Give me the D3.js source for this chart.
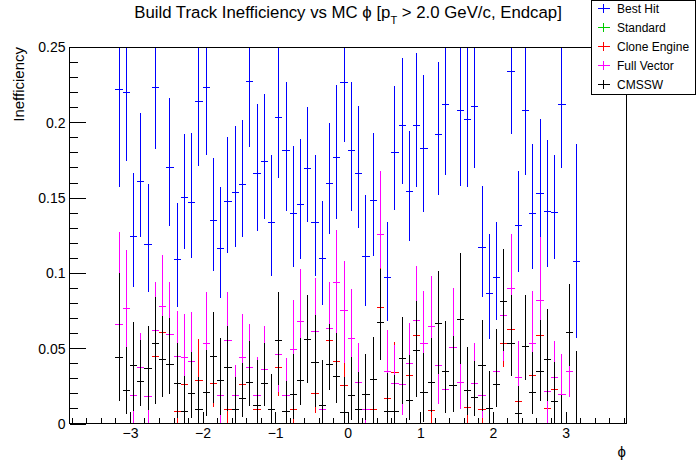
<!DOCTYPE html>
<html>
<head>
<meta charset="utf-8">
<script src="https://cdn.jsdelivr.net/npm/d3@7"></script>
<style>
  body { margin: 0; background: #fff; }
  svg { display: block; font-family: "Liberation Sans", Arial, sans-serif; }
</style>
</head>
<body>
<div id="chart"></div>
<script>
const WIDTH = 696;
const HEIGHT = 472;

// bin centres in phi (64 bins of 0.1)
const phiBins = [
  -3.15, -3.05, -2.95, -2.85, -2.75, -2.65, -2.55, -2.45, -2.35, -2.25,
  -2.15, -2.05, -1.95, -1.85, -1.75, -1.65, -1.55, -1.45, -1.35, -1.25,
  -1.15, -1.05, -0.95, -0.85, -0.75, -0.65, -0.55, -0.45, -0.35, -0.25,
  -0.15, -0.05, 0.05, 0.15, 0.25, 0.35, 0.45, 0.55, 0.65, 0.75,
  0.85, 0.95, 1.05, 1.15, 1.25, 1.35, 1.45, 1.55, 1.65, 1.75,
  1.85, 1.95, 2.05, 2.15, 2.25, 2.35, 2.45, 2.55, 2.65, 2.75,
  2.85, 2.95, 3.05, 3.15
];
const binHalfWidth = 0.05;

const seriesNames = ['Best Hit', 'Standard', 'Clone Engine', 'Full Vector', 'CMSSW'];
const seriesColors = ['#0000ff', '#00cc00', '#ff0000', '#ff00ff', '#000000'];

const xTicks = [-3, -2, -1, 0, 1, 2, 3];
const yTicks = [0, 0.05, 0.1, 0.15, 0.2, 0.25];

// Best Hit
const bestHitVal = [
  0.222, 0.220, 0.1245, 0.161, 0.119, 0.223, null, 0.170, 0.1086, 0.150,
  0.147, 0.2135, 0.223, 0.135, 0.116, 0.1475, 0.1535, 0.159, 0.2268, 0.166,
  0.174, 0.1336, 0.2033, 0.181, 0.1396, 0.1455, 0.169, 0.1336, 0.1097, 0.1595,
  0.1768, 0.2266, 0.181, 0.166, 0.111, 0.148, null, 0.097, 0.180, 0.198,
  0.154, 0.198, 0.1827, null, 0.192, 0.212, null, 0.208, 0.202, 0.2106,
  0.117, 0.086, 0.097, null, 0.2339, 0.1318, 0.208, 0.1396, 0.153, 0.141,
  0.140, 0.212, null, 0.1077
];
const bestHitLo = [
  0.065, 0.046, 0.034, 0.037, 0.032, 0.041, null, 0.039, 0.031, 0.034,
  0.037, 0.0425, 0.045, 0.034, 0.0325, 0.0345, 0.036, 0.035, 0.043, 0.038,
  0.038, 0.0356, 0.040, 0.040, 0.0356, 0.0365, 0.035, 0.0356, 0.031, 0.0335,
  0.041, 0.040, 0.040, 0.036, 0.033, 0.037, null, 0.029, 0.038, 0.039,
  0.033, 0.041, 0.042, null, 0.040, 0.047, null, 0.050, 0.045, 0.041,
  0.033, 0.030, 0.028, null, 0.042, 0.031, 0.043, 0.037, 0.029, 0.037,
  0.031, 0.0425, null, 0.051
];
const bestHitHi = [
  0.065, 0.05, 0.042, 0.045, 0.040, 0.045, null, 0.046, 0.038, 0.042,
  0.046, 0.045, 0.045, 0.041, 0.041, 0.0425, 0.044, 0.0425, 0.045, 0.046,
  0.045, 0.0444, 0.047, 0.046, 0.0444, 0.0435, 0.041, 0.0444, 0.038, 0.040,
  0.048, 0.045, 0.046, 0.045, 0.041, 0.045, null, 0.037, 0.044, 0.045,
  0.0405, 0.048, 0.049, null, 0.048, 0.05, null, 0.05, 0.05, 0.05,
  0.041, 0.040, 0.037, null, 0.05, 0.036, 0.05, 0.046, 0.049, 0.047,
  0.038, 0.05, null, 0.078
];

// Clone Engine
const cloneVal = [
  null, null, 0, null, 0, 0.0442, 0.0605, null, 0.0079, 0.0262,
  null, 0.0287, null, 0.0267, null, 0.009, null, 0.0262, null, 0.0094,
  null, null, 0.0371, null, 0.0096, null, null, 0.02, null, 0.0554,
  0.0415, 0.025, null, 0, 0, 0.0094, 0.0771, 0.0167, 0.034, null,
  0.0317, 0.0585, null, 0.0087, null, null, null, null, 0.0107, null,
  0.0094, null, null, 0.0532, 0.0625, 0.0145, null, 0.0316, 0.0585, 0.0101,
  0.0227, null, null, null
];
const cloneLo = [
  null, null, 0, null, 0, 0.019, 0.02, null, 0.0073, 0.015,
  null, 0.02, null, 0.0155, null, 0.009, null, 0.015, null, 0.0094,
  null, null, 0.0186, null, 0.0096, null, null, 0.0132, null, 0.02,
  0.02, 0.0134, null, 0, 0, 0.0094, 0.03, 0.01, 0.02, null,
  0.02, 0.025, null, 0.0087, null, null, null, null, 0.0107, null,
  0.0094, null, null, 0.0155, 0.025, 0.01, null, 0.02, 0.025, 0.0101,
  0.015, null, null, null
];
const cloneHi = [
  null, null, 0.0075, null, 0.0075, 0.02, 0.025, null, 0.004, 0.02,
  null, 0.0274, null, 0.02, null, 0.0095, null, 0.02, null, 0.01,
  null, null, 0.02, null, 0.01, null, null, 0.015, null, 0.02,
  0.02, 0.024, null, 0.005, 0.005, 0.0034, 0.03, 0.015, 0.02, null,
  0.02, 0.025, null, 0.0033, null, null, null, null, 0.01, null,
  0.01, null, null, 0.02, 0.025, 0.015, null, 0.02, 0.025, 0.01,
  0.015, null, null, null
];

// Standard: no green is visible anywhere, it lies under Clone Engine
const standardVal = cloneVal;
const standardLo = cloneLo;
const standardHi = cloneHi;

// Full Vector
const fullVecVal = [
  0.066, 0.0765, 0.0189, 0.0373, 0.0176, 0.062, 0.0778, 0.0592, 0.0446, 0.0439,
  0.0413, 0, 0.0528, null, 0.0189, 0.0554, 0.0189, 0.0439, 0.0373, 0.0189,
  0.036, null, 0.046, 0.0183, 0.0494, 0.0674, null, 0.0614, 0.009, 0.0632,
  0.0933, 0.0753, 0.0565, 0.0273, 0.0094, null, 0.1256, 0.0347, 0.0267, 0.0256,
  0.04, 0.0687, 0.0532, 0.0643, 0.0382, 0.0227, 0.0505, 0.0273, null, 0.0267,
  0.0189, 0, 0.0347, 0.0718, 0.0897, 0.0306, null, 0.0532, 0.0818, 0.0213,
  0.0308, 0.0194, 0.0347, null
];
const fullVecLo = [
  0.04, 0.026, 0.0189, 0.025, 0.0176, 0.03, 0.035, 0.03, 0.025, 0.025,
  0.025, 0, 0.03, null, 0.0189, 0.03, 0.0189, 0.025, 0.025, 0.0189,
  0.02, null, 0.025, 0.0183, 0.03, 0.03, null, 0.03, 0.009, 0.03,
  0.04, 0.035, 0.03, 0.02, 0.0094, null, 0.0226, 0.0177, 0.02, 0.02,
  0.025, 0.035, 0.03, 0.035, 0.025, 0.0155, 0.03, 0.018, null, 0.02,
  0.015, 0, 0.02, 0.03, 0.04, 0.02, null, 0.03, 0.04, 0.0213,
  0.02, 0.015, 0.017, null
];
const fullVecHi = [
  0.061, 0.039, 0.03, 0.023, 0.03, 0.032, 0.034, 0.0345, 0.030, 0.029,
  0.033, 0.02, 0.0347, null, 0.03, 0.032, 0.02, 0.0288, 0.0287, 0.0255,
  0.0287, null, 0.03, 0.0254, 0.0326, 0.0352, null, 0.035, 0.0205, 0.031,
  0.035, 0.0326, 0.0328, 0.0263, 0.02, null, 0.042, 0.0274, 0.0254, 0.0265,
  0.0265, 0.0359, 0.0348, 0.0337, 0.0283, 0.0283, 0.0395, 0.025, null, 0.0265,
  0.025, 0.02, 0.0275, 0.035, 0.0361, 0.0242, null, 0.0348, 0.0418, 0.03,
  0.024, 0.0267, 0.02, null
];

// CMSSW
const cmsswVal = [
  0.044, 0.0216, 0.0382, 0.0282, 0.0362, 0.0532, 0.0428, 0.0393, 0.0267, 0.0081,
  0.020, 0.009, 0.0207, 0.0446, 0.0287, 0.0371, 0.009, 0.0167, 0.0274, 0.012,
  0.0267, 0.0096, 0.0554, 0.008, 0.0194, 0.0287, 0.0561, 0.0408, 0.012, 0.0395,
  0.031, 0.0074, 0.0183, 0.009, 0.0194, 0.0295, 0.0671, 0.0083, 0.0083, 0.043,
  0.0154, 0.0488, 0.0207, 0.0273, 0.0665, 0.0347, 0.025, 0.0692, 0.022, 0.0174,
  0.0386, 0.0101, 0.026, 0.0807, 0.0532, 0.0068, 0.0512, 0.0207, 0.0347, 0.0428,
  0.0147, 0, 0.0605, 0
];
const cmsswLo = [
  0.029, 0.015, 0.030, 0.0166, 0.027, 0.040, 0.025, 0.020, 0.023, 0.0081,
  0.0166, 0.009, 0.016, 0.031, 0.023, 0.029, 0.009, 0.0125, 0.016, 0.012,
  0.0149, 0.0096, 0.0298, 0.008, 0.0165, 0.0164, 0.0294, 0.0296, 0.012, 0.0173,
  0.0176, 0.0074, 0.0161, 0.009, 0.0172, 0.0295, 0.0249, 0.0083, 0.0083, 0.030,
  0.0133, 0.031, 0.0195, 0.0194, 0.0336, 0.0275, 0.0172, 0.030, 0.0165, 0.0122,
  0.0305, 0.0101, 0.0149, 0.0325, 0.0215, 0.0068, 0.0223, 0.0141, 0.0195, 0.028,
  0.0147, 0, 0.0221, 0
];
const cmsswHi = [
  0.056, 0.029, 0.029, 0.027, 0.0285, 0.031, 0.0286, 0.0305, 0.0265, 0.0237,
  0.0277, 0.022, 0.028, 0.0294, 0.0278, 0.0279, 0.022, 0.0237, 0.0274, 0.03,
  0.0269, 0.0233, 0.0321, 0.02, 0.0267, 0.0278, 0.0292, 0.0312, 0.03, 0.0265,
  0.0293, 0.0236, 0.0261, 0.025, 0.0267, 0.0281, 0.0355, 0.025, 0.024, 0.0275,
  0.03, 0.0325, 0.0259, 0.0292, 0.0348, 0.0335, 0.033, 0.0442, 0.029, 0.0243,
  0.0301, 0.0248, 0.0365, 0.0352, 0.032, 0.0181, 0.0341, 0.027, 0.034, 0.0332,
  0.0264, 0.019, 0.0321, 0.048
];

const seriesData = [
  [bestHitVal, bestHitLo, bestHitHi],
  [standardVal, standardLo, standardHi],
  [cloneVal, cloneLo, cloneHi],
  [fullVecVal, fullVecLo, fullVecHi],
  [cmsswVal, cmsswLo, cmsswHi]
];

// frame
const LEFT = 69.5, RIGHT = 626, TOP = 47, BOTTOM = 423.5;

const x = d3.scaleLinear().domain([-3.833, 3.833]).range([LEFT, RIGHT]);
const y = d3.scaleLinear().domain([0, 0.25]).range([BOTTOM, TOP]);

const svg = d3.select('#chart')
  .append('svg')
    .attr('width', WIDTH)
    .attr('height', HEIGHT)
    .attr('style', 'background-color: #fff');

svg.append('defs').append('clipPath')
    .attr('id', 'frame-clip')
  .append('rect')
    .attr('x', LEFT).attr('y', TOP)
    .attr('width', RIGHT - LEFT).attr('height', BOTTOM - TOP);

// points with error bars, drawn in legend order
const plot = svg.append('g').attr('clip-path', 'url(#frame-clip)');

seriesData.forEach(([vals, lo, hi], s) => {
  const pts = phiBins.map((c, i) => ({ c: c, v: vals[i], lo: lo[i], hi: hi[i] }))
    .filter(d => d.v !== null);

  const g = plot.append('g')
    .attr('stroke', seriesColors[s])
    .attr('stroke-width', 1)
    .attr('shape-rendering', 'crispEdges');

  g.selectAll('line.err')
    .data(pts)
    .enter().append('line')
      .attr('class', 'err')
      .attr('x1', d => x(d.c)).attr('x2', d => x(d.c))
      .attr('y1', d => y(d.v - d.lo)).attr('y2', d => y(d.v + d.hi));

  g.selectAll('line.bin')
    .data(pts)
    .enter().append('line')
      .attr('class', 'bin')
      .attr('x1', d => x(d.c - binHalfWidth)).attr('x2', d => x(d.c + binHalfWidth))
      .attr('y1', d => y(d.v)).attr('y2', d => y(d.v));
});

// axes
const minorX = d3.range(-38, 39, 2).map(v => v / 10);
const minorY = d3.range(0, 26).map(v => v / 100);

const xMinor = svg.append('g')
  .attr('transform', `translate(0,${BOTTOM})`)
  .call(d3.axisBottom(x).tickValues(minorX).tickSize(-5.7).tickFormat(''));
const xAxis = svg.append('g')
  .attr('transform', `translate(0,${BOTTOM})`)
  .call(d3.axisBottom(x).tickValues(xTicks).tickSize(-11.3).tickPadding(5).tickFormat(d3.format('d')));

const yMinor = svg.append('g')
  .attr('transform', `translate(${LEFT},0)`)
  .call(d3.axisLeft(y).tickValues(minorY).tickSize(-8.4).tickFormat(''));
const yAxis = svg.append('g')
  .attr('transform', `translate(${LEFT},0)`)
  .call(d3.axisLeft(y).tickValues(yTicks).tickSize(-16.7).tickPadding(4).tickFormat(d => d === 0 ? '0' : String(d)));

[xMinor, xAxis, yMinor, yAxis].forEach(a => {
  a.select('.domain').remove();
  a.selectAll('line').attr('stroke', '#000').attr('shape-rendering', 'crispEdges');
  a.selectAll('text')
    .attr('fill', '#000')
    .attr('font-size', 14)
    .attr('font-family', '"Liberation Sans", Arial, sans-serif');
});
yAxis.selectAll('text').attr('dy', '0.35em');

svg.append('rect')
  .attr('x', LEFT).attr('y', TOP)
  .attr('width', RIGHT - LEFT).attr('height', BOTTOM - TOP)
  .attr('fill', 'none')
  .attr('stroke', '#000')
  .attr('stroke-width', 1)
  .attr('shape-rendering', 'crispEdges');

// axis titles
svg.append('text')
  .attr('transform', `translate(24,${TOP}) rotate(-90)`)
  .attr('text-anchor', 'end')
  .attr('font-size', 15)
  .text('Inefficiency');

svg.append('text')
  .attr('x', RIGHT)
  .attr('y', 457)
  .attr('text-anchor', 'end')
  .attr('font-size', 15)
  .text('ϕ');

// title
const title = svg.append('text')
  .attr('x', 348)
  .attr('y', 18)
  .attr('text-anchor', 'middle')
  .attr('font-size', 16.8);
title.append('tspan').text('Build Track Inefficiency vs MC ϕ [p');
title.append('tspan').attr('font-size', 11).attr('dy', 6).text('T');
title.append('tspan').attr('dy', -6).text(' > 2.0 GeV/c, Endcap]');

// legend
const legend = svg.append('g');
legend.append('rect')
  .attr('x', 591.5).attr('y', 0.5)
  .attr('width', 104).attr('height', 93.5)
  .attr('fill', '#fff')
  .attr('stroke', '#000')
  .attr('shape-rendering', 'crispEdges');

const entries = legend.selectAll('g.entry')
  .data(seriesNames)
  .enter().append('g')
    .attr('class', 'entry')
    .attr('transform', (d, i) => `translate(0,${8.5 + i * 19})`);

entries.append('line')
  .attr('x1', 597.5).attr('x2', 609.5).attr('y1', 0).attr('y2', 0)
  .attr('stroke', (d, i) => seriesColors[i])
  .attr('shape-rendering', 'crispEdges');
entries.append('line')
  .attr('x1', 603.5).attr('x2', 603.5).attr('y1', -4.7).attr('y2', 4.7)
  .attr('stroke', (d, i) => seriesColors[i])
  .attr('shape-rendering', 'crispEdges');
entries.append('text')
  .attr('x', 617)
  .attr('y', 4.3)
  .attr('font-size', 12)
  .text(d => d);
</script>
</body>
</html>
